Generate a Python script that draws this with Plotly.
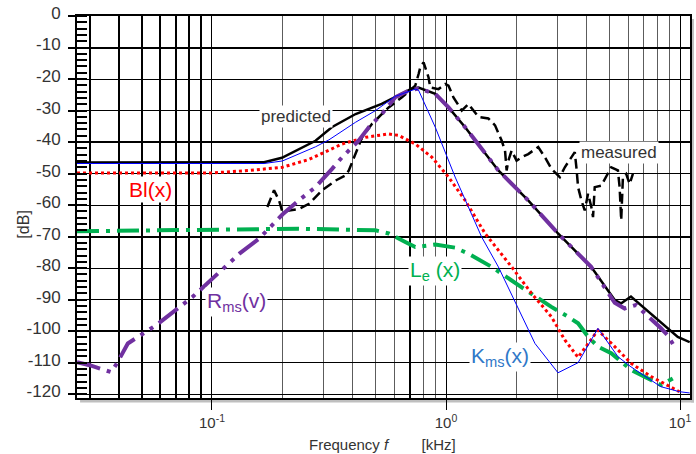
import plotly.graph_objects as go

FONT = "Liberation Sans, Arial, sans-serif"

# ---------------- data (frequency in kHz, level in dB) ----------------
pred_f = [0.0265, 0.1, 0.167, 0.199, 0.277, 0.325, 0.411, 0.531, 0.628, 0.713, 0.763,
          0.90, 1.025, 1.207, 1.674, 2.245, 3.01, 4.17, 5.26, 5.59, 6.17, 7.5, 9.78, 11.0]
pred_db = [-46.5, -46.5, -46.4, -45.0, -39.6, -35.3, -31.1, -27.9, -25.3, -23.1, -22.7,
           -24.7, -29.0, -35.3, -49.0, -58.5, -69.0, -79.6, -90.1, -91.2, -89.0, -94.4, -101.8, -103.5]

kms_f = [0.0265, 0.167, 0.2, 0.277, 0.316, 0.411, 0.5, 0.607, 0.739, 0.763, 0.90, 1.094,
         1.42, 1.674, 2.40, 3.01, 3.667, 4.46, 5.43, 6.17, 8.27, 9.94, 11.0]
kms_db = [-46.8, -46.8, -46.0, -41.5, -39.3, -33.7, -30.0, -25.5, -23.2, -23.5, -35.3, -51.1,
          -70.1, -79.6, -103.9, -113.2, -110.0, -99.1, -108.1, -111.3, -117.6, -119.2, -119.6]

bl_f = [0.0265, 0.1, 0.144, 0.2, 0.26, 0.36, 0.453, 0.569, 0.628, 0.739, 0.87, 1.025, 1.207,
        1.469, 1.907, 2.32, 2.82, 3.22, 3.667, 4.05, 4.46, 5.26, 6.18, 7.52, 9.94]
bl_db = [-49.8, -49.8, -49.0, -48.0, -45.5, -40.6, -38.5, -37.4, -37.9, -40.6, -44.8, -51.1, -58.5,
         -69.0, -79.6, -88.0, -95.4, -102.8, -108.3, -103.9, -99.7, -104.9, -110.2, -114.4, -119.2]

le_f = [0.0265, 0.088, 0.235, 0.499, 0.569, 0.67, 0.739, 0.90, 1.094, 1.247, 1.567, 2.04,
        2.48, 2.82, 3.32, 3.667, 4.05, 4.46, 5.08, 6.18, 7.52, 8.30, 9.31]
le_db = [-68.3, -68.0, -67.5, -68.0, -69.0, -71.7, -73.3, -72.5, -73.5, -75.4, -79.6, -85.4,
         -89.6, -92.3, -95.4, -97.5, -101.8, -104.9, -107.0, -112.3, -115.5, -117.1, -115.0]

rms_f = [0.0265, 0.030, 0.0371, 0.0394, 0.0437, 0.0577, 0.0827, 0.104, 0.131, 0.159, 0.2,
         0.235, 0.277, 0.326, 0.36, 0.424, 0.468, 0.532, 0.607, 0.692, 0.763, 0.90, 1.025,
         1.207, 1.674, 2.245, 3.01, 4.17, 5.26, 5.8, 6.48, 8.27, 8.85, 9.38]
rms_db = [-109.8, -110.8, -113.0, -110.0, -103.9, -98.1, -89.1, -82.2, -75.4, -70.6, -63.0,
          -58.5, -54.3, -48.5, -44.8, -39.5, -35.3, -31.1, -25.8, -23.7, -23.0, -24.7, -29.0,
          -35.3, -49.0, -58.5, -69.0, -79.6, -91.0, -92.8, -91.7, -99.0, -101.3, -104.4]

meas_f = [0.1725, 0.1842, 0.1935, 0.2, 0.2134, 0.2354, 0.2597, 0.2958, 0.3375, 0.3722, 0.3844,
          0.4105, 0.438, 0.4831, 0.569, 0.6483, 0.7391, 0.7636, 0.7765, 0.8019, 0.8423, 0.8564,
          0.9292, 0.9922, 1.0247, 1.0762, 1.1677, 1.2468, 1.3752, 1.5171, 1.6203, 1.7287,
          1.7874, 1.8157, 1.8463, 1.9066, 2.0025, 2.1032, 2.2457, 2.4774, 2.6459, 2.8225,
          3.0645, 3.2187, 3.4348, 3.5511, 3.6072, 3.6673, 3.7884, 3.9162, 4.0454, 4.1788,
          4.2488, 4.3199, 4.6075, 4.9216, 5.083, 5.4282, 5.5189, 5.6062, 5.7016, 5.8884,
          6.0884, 6.2893]
meas_db = [-60.6, -55.3, -58.5, -62.2, -61.7, -61.2, -59.6, -55.3, -52.2, -50.6, -49.0,
           -43.8, -38.5, -34.2, -29.0, -25.8, -22.1, -18.4, -16.3, -14.7, -19.5, -22.7,
           -23.2, -21.6, -22.1, -25.8, -30.0, -27.9, -32.0, -32.5, -34.7, -39.5,
           -42.7, -49.0, -45.9, -42.7, -45.9, -44.8, -43.8, -41.6, -44.8, -48.5,
           -51.1, -48.0, -44.8, -43.2, -48.0, -54.3, -58.5, -61.7, -56.4, -60.6,
           -63.8, -54.3, -53.8, -50.1, -48.0, -49.0, -54.3, -64.8, -51.1, -50.1,
           -53.3, -50.1]

y_ticks = [0, -10, -20, -30, -40, -50, -60, -70, -80, -90, -100, -110, -120]
y_labels = ["0", "-10", "-20", "-30", "-40", "-50", "-60", "-70", "-80", "-90", "-100", "-110", "-120"]
y_bold = [-10, -40, -70, -100]
x_ticks = [0.1, 1, 10]
x_labels = ["10<sup>-1</sup>", "10<sup>0</sup>", "10<sup>1</sup>"]
x_bold = [0.03, 0.04, 0.05, 0.06, 0.07, 0.08, 0.09, 0.7]

# ---------------- figure ----------------
fig = go.Figure()

fig.add_trace(go.Scatter(x=le_f, y=le_db, mode="lines",
                         line=dict(color="#00b050", width=4, dash="22px,7px,4px,7px")))
fig.add_trace(go.Scatter(x=bl_f, y=bl_db, mode="lines",
                         line=dict(color="#ff0000", width=3, dash="3px,3px")))
fig.add_trace(go.Scatter(x=pred_f, y=pred_db, mode="lines", xaxis="x2",
                         line=dict(color="#000000", width=2.5)))
fig.add_trace(go.Scatter(x=rms_f, y=rms_db, mode="lines", xaxis="x2",
                         line=dict(color="#7030a0", width=4, dash="24px,7px,4px,7px,4px,7px")))
fig.add_trace(go.Scatter(x=kms_f, y=kms_db, mode="lines", xaxis="x2",
                         line=dict(color="#0000ff", width=1)))
fig.add_trace(go.Scatter(x=meas_f, y=meas_db, mode="lines", yaxis="y2",
                         line=dict(color="#000000", width=2.5, dash="10px,5px")))

fig.update_layout(
    width=696, height=454,
    margin=dict(l=77, r=4, t=15, b=56),
    paper_bgcolor="white", plot_bgcolor="white",
    showlegend=False,
    font=dict(family=FONT, color="#333333", size=15),
    xaxis=dict(
        type="log", range=[-1.5767, 1.0426],
        tickmode="array", tickvals=x_ticks, ticktext=x_labels,
        ticks="outside", ticklen=10, tickwidth=1, tickcolor="black",
        tickfont=dict(size=15, color="#333333"),
        showgrid=True, gridcolor="#000000", gridwidth=1,
        minor=dict(dtick="D1", showgrid=True, gridcolor="#5c5c5c", gridwidth=1.4, ticks=""),
        showline=True, linecolor="black", linewidth=2, mirror=True,
        zeroline=False,
    ),
    xaxis2=dict(
        type="log", overlaying="x", matches="x", anchor="y", side="bottom",
        tickmode="array", tickvals=x_bold, showticklabels=False, ticks="",
        showgrid=True, gridcolor="black", gridwidth=2, zeroline=False, showline=False,
    ),
    yaxis=dict(
        range=[-121.2, 0],
        tickmode="array", tickvals=y_ticks, ticktext=y_labels,
        ticks="outside", ticklen=7, tickwidth=1.5, tickcolor="black",
        tickfont=dict(size=17, color="#333333"),
        ticklabelstandoff=4, ticklabelshift=-3,
        showgrid=True, gridcolor="black", gridwidth=1,
        minor=dict(tickmode="linear", tick0=0, dtick=2, ticks="inside", ticklen=10,
                   tickwidth=2, tickcolor="black", showgrid=False),
        showline=True, linecolor="black", linewidth=2, mirror=True,
        zeroline=False,
    ),
    yaxis2=dict(
        overlaying="y", matches="y", anchor="x", side="left",
        tickmode="array", tickvals=y_bold, showticklabels=False, ticks="",
        showgrid=True, gridcolor="black", gridwidth=2.2, zeroline=False, showline=False,
    ),
)

# drop shadow of the frame
fig.add_shape(type="rect", xref="paper", yref="paper", x0=0.005, x1=1.0065, y0=-0.0115, y1=-0.001,
              fillcolor="#bfbfbf", line=dict(width=0), layer="below")
fig.add_shape(type="rect", xref="paper", yref="paper", x0=1.002, x1=1.0065, y0=-0.0115, y1=0.992,
              fillcolor="#bfbfbf", line=dict(width=0), layer="below")

def label(text, x, y, color, size, bg="white"):
    fig.add_annotation(text=text, xref="paper", yref="paper", x=x, y=y,
                       xanchor="center", yanchor="middle", showarrow=False,
                       font=dict(family=FONT, size=size, color=color),
                       bgcolor=bg, borderpad=1)

label("predicted", 0.3577, 0.7363, "#333333", 17)
label("measured", 0.8846, 0.6423, "#333333", 17)
label("Bl(x)", 0.1195, 0.5457, "#ff0000", 21)
label("R<sub>ms</sub>(v)", 0.2602, 0.2507, "#7030a0", 21)
label("L<sub>e</sub> (x)", 0.5837, 0.3316, "#00b050", 21)
label("K<sub>ms</sub>(x)", 0.6894, 0.1070, "#3078c8", 21)

# axis titles
fig.add_annotation(text="Frequency <i>f</i>" + "\u00a0" * 8 + "[kHz]", xref="paper", yref="paper",
                   x=0.4976, y=-0.1227, xanchor="center", yanchor="middle", showarrow=False,
                   font=dict(family=FONT, size=15, color="#333333"))
fig.add_annotation(text="[dB]", xref="paper", yref="paper", x=-0.0878, y=0.4543,
                   xanchor="center", yanchor="middle", showarrow=False, textangle=-90,
                   font=dict(family=FONT, size=16, color="#333333"))

fig.write_html("out.html")
